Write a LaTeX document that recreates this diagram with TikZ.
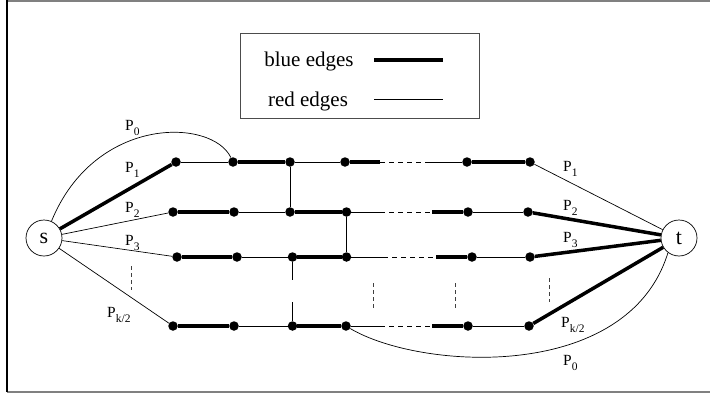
\documentclass[tikz,border=0pt]{standalone}
\usepackage{fontspec}
\setmainfont{Liberation Serif}
\newcommand\psub[1]{\raisebox{-5pt}{\fontsize{11.5}{11.5}\selectfont #1}}
\begin{document}
\begin{tikzpicture}[x=1pt,y=-1pt,
  dot/.style={circle,fill=black,inner sep=0pt,minimum size=9.5pt},
  term/.style={circle,draw,line width=0.7pt,inner sep=0pt,minimum size=36pt,font=\fontsize{22}{22}\selectfont},
  blueedge/.style={line width=3.5pt},
  rededge/.style={line width=0.7pt},
  gapedge/.style={line width=0.7pt,dash pattern=on 5pt off 4pt},
  vdots/.style={line width=0.7pt,dash pattern=on 4pt off 3pt,black!75},
  plabel/.style={anchor=base west,inner sep=0pt,font=\fontsize{15.5}{15.5}\selectfont},
  legtext/.style={anchor=base,inner sep=0pt,font=\fontsize{21}{21}\selectfont},
  framegray/.style={line width=1.8pt,black!50}]
\useasboundingbox (0,0) rectangle (710,399);
% frame
\draw[framegray] (7,0.8) -- (710,0.8);
\draw[framegray] (7,392) -- (710,392);
\draw[line width=1.5pt] (7,0) -- (7,392);
% legend
\node[draw=black!70,line width=0.9pt,minimum width=239pt,minimum height=85pt,inner sep=0pt] (legend) at (359.5,75.5) {};
\node[legtext] (lblue) at (309,66) {blue edges};
\node[legtext] (lred) at (308,106) {red edges};
\coordinate (lb1) at (374,60); \coordinate (lb2) at (443,60);
\coordinate (lr1) at (374,99); \coordinate (lr2) at (443,99);
\draw[blueedge] (lb1) -- (lb2);
\draw[rededge] (lr1) -- (lr2);
% terminals
\node[term] (s) at (44,238) {s};
\node[term] (t) at (679,238) {t};
% dots
\foreach \n/\x in {1/176,2/233,3/290,4/345,5/467,6/530} \node[dot] (a\n) at (\x,162) {};
\foreach \n/\x in {1/173,2/234,3/290,4/346.5,5/468,6/528} \node[dot] (b\n) at (\x,212) {};
\foreach \n/\x in {1/177,2/237,3/292.5,4/346.5,5/472,6/530} \node[dot] (c\n) at (\x,257) {};
\foreach \n/\x in {1/173,2/234,3/292.5,4/346,5/468,6/529} \node[dot] (d\n) at (\x,326) {};
% gap coordinates
\coordinate (ag1) at (380,162); \coordinate (ag2) at (429,162);
\coordinate (bg1) at (380,212); \coordinate (bg2) at (432,212);
\coordinate (cg1) at (383,257); \coordinate (cg2) at (436,257);
\coordinate (dg1) at (380,326); \coordinate (dg2) at (432,326);
% edges from s
\draw[blueedge] (s) -- (a1);
\draw[rededge] (s) -- (b1);
\draw[rededge] (s) -- (c1);
\draw[rededge] (s) -- (d1);
% row 1
\draw[rededge] (a1) -- (a2);
\draw[blueedge] (a2) -- (a3);
\draw[rededge] (a3) -- (a4);
\draw[blueedge] (a4) -- (ag1);
\draw[gapedge] (ag1) -- (ag2);
\draw[rededge] (ag2) -- (a5);
\draw[blueedge] (a5) -- (a6);
\draw[rededge] (a6) -- (t);
% row 2
\draw[blueedge] (b1) -- (b2);
\draw[rededge] (b2) -- (b3);
\draw[blueedge] (b3) -- (b4);
\draw[rededge] (b4) -- (bg1);
\draw[gapedge] (bg1) -- (bg2);
\draw[blueedge] (bg2) -- (b5);
\draw[rededge] (b5) -- (b6);
\draw[blueedge] (b6) -- (t);
% row 3
\draw[blueedge] (c1) -- (c2);
\draw[rededge] (c2) -- (c3);
\draw[blueedge] (c3) -- (c4);
\draw[rededge] (c4) -- (cg1);
\draw[gapedge] (cg1) -- (cg2);
\draw[blueedge] (cg2) -- (c5);
\draw[rededge] (c5) -- (c6);
\draw[blueedge] (c6) -- (t);
% row 4
\draw[blueedge] (d1) -- (d2);
\draw[rededge] (d2) -- (d3);
\draw[blueedge] (d3) -- (d4);
\draw[rededge] (d4) -- (dg1);
\draw[gapedge] (dg1) -- (dg2);
\draw[blueedge] (dg2) -- (d5);
\draw[rededge] (d5) -- (d6);
\draw[blueedge] (d6) -- (t);
% verticals
\draw[rededge] (a3) -- (b3);
\draw[rededge] (b4) -- (c4);
\coordinate (vg1) at (292.5,280); \coordinate (vg2) at (292.5,302);
\draw[rededge] (c3) -- (vg1);
\draw[rededge] (vg2) -- (d3);
% P0 curves
\draw[rededge] (s.66) .. controls (95,115) and (212,118) .. (a2);
\draw[rededge] (d4) .. controls (420,370) and (628,383) .. (t.233);
% vertical dot markers
\draw[vdots] (131,266) -- (131,290);
\draw[vdots] (373,283) -- (373,308);
\draw[vdots] (455,283) -- (455,308);
\draw[vdots] (549,278) -- (549,302);
% labels
\node[plabel] (lp0) at (125,130) {P\psub{0}};
\node[plabel] (lp1) at (125,172) {P\psub{1}};
\node[plabel] (lp2) at (125,212) {P\psub{2}};
\node[plabel] (lp3) at (125,245) {P\psub{3}};
\node[plabel] (lpk) at (107,317) {P\psub{k/2}};
\node[plabel] (rp1) at (563,171) {P\psub{1}};
\node[plabel] (rp2) at (563,210) {P\psub{2}};
\node[plabel] (rp3) at (563,242) {P\psub{3}};
\node[plabel] (rpk) at (561,327) {P\psub{k/2}};
\node[plabel] (rp0) at (563,365) {P\psub{0}};
\end{tikzpicture}
\end{document}
